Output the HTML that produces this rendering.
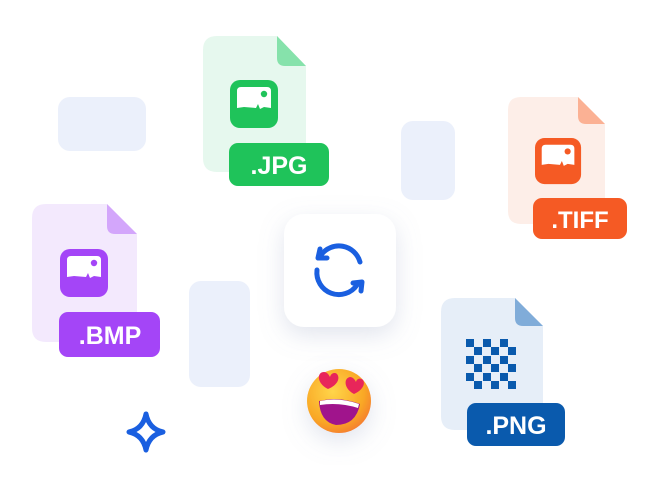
<!DOCTYPE html>
<html><head><meta charset="utf-8"><style>
html,body{margin:0;padding:0;background:#fff;width:671px;height:498px;overflow:hidden}
svg{display:block}
text{font-family:"Liberation Sans",sans-serif;font-weight:700;fill:#fff}
</style></head><body>
<svg width="671" height="498" viewBox="0 0 671 498" xmlns="http://www.w3.org/2000/svg">
<defs>
<filter id="sh" x="-50%" y="-50%" width="200%" height="200%"><feDropShadow dx="0" dy="8" stdDeviation="12" flood-color="#8a93b8" flood-opacity="0.25"/></filter>
<radialGradient id="em" cx="0.4" cy="0.35" r="0.7"><stop offset="0" stop-color="#ffd54a"/><stop offset="0.7" stop-color="#f9a825"/><stop offset="1" stop-color="#f57c30"/></radialGradient>
<g id="img"><rect x="0" y="0" width="48" height="48" rx="10"/><path d="M7 11Q7 7 11 7H37Q41 7 41 11V28L34 27L30 29L28 24L26 28L14 27L7 28Z" fill="#fff"/><circle cx="34" cy="14" r="3.2"/></g>
</defs>
<rect x="58" y="97" width="88" height="54" rx="12" fill="#ebf0fb"/>
<rect x="401" y="121" width="54" height="79" rx="12" fill="#ebf0fb"/>
<rect x="189" y="281" width="61" height="106" rx="12" fill="#ebf0fb"/>

<path d="M217 36H277L306 66V158Q306 172 292 172H217Q203 172 203 158V50Q203 36 217 36Z" fill="#e6f8ee"/>
<path d="M277 36L306 66H285Q277 66 277 58Z" fill="#86e2ab"/>
<use href="#img" x="230" y="80" fill="#1fc35a"/>
<rect x="229" y="143" width="100" height="43" rx="9" fill="#1fc35a"/>
<text x="279" y="174" font-size="25" text-anchor="middle">.JPG</text>

<path d="M521 97H578L605 124V211Q605 224 592 224H521Q508 224 508 211V110Q508 97 521 97Z" fill="#fdeee8"/>
<path d="M578 97L605 124H586Q578 124 578 116Z" fill="#fbb194"/>
<use href="#img" x="535" y="138" fill="#f55a24" transform="translate(535 138) scale(0.96) translate(-535 -138)"/>
<rect x="533" y="198" width="94" height="41" rx="9" fill="#f55a24"/>
<text x="580" y="228" font-size="24" text-anchor="middle">.TIFF</text>

<path d="M46 204H107L137 234V328Q137 342 123 342H46Q32 342 32 328V218Q32 204 46 204Z" fill="#f3e9fd"/>
<path d="M107 204L137 234H115Q107 234 107 226Z" fill="#d3a6fb"/>
<use href="#img" x="60" y="249" fill="#a445f7"/>
<rect x="59" y="312" width="101" height="45" rx="9" fill="#a445f7"/>
<text x="110" y="344" font-size="25" text-anchor="middle">.BMP</text>

<path d="M455 298H515L543 326V416Q543 430 529 430H455Q441 430 441 416V312Q441 298 455 298Z" fill="#e6eef8"/>
<path d="M515 298L543 326H523Q515 326 515 318Z" fill="#80acd9"/>
<g fill="#0a5aad">
<rect x="466" y="339" width="8" height="8"/><rect x="483" y="339" width="8" height="8"/><rect x="500" y="339" width="8" height="8"/>
<rect x="474" y="347" width="8" height="8"/><rect x="491" y="347" width="8" height="8"/><rect x="508" y="347" width="8" height="8"/>
<rect x="466" y="356" width="8" height="8"/><rect x="483" y="356" width="8" height="8"/><rect x="500" y="356" width="8" height="8"/>
<rect x="474" y="364" width="8" height="8"/><rect x="491" y="364" width="8" height="8"/><rect x="508" y="364" width="8" height="8"/>
<rect x="466" y="373" width="8" height="8"/><rect x="483" y="373" width="8" height="8"/><rect x="500" y="373" width="8" height="8"/>
<rect x="474" y="381" width="8" height="8"/><rect x="491" y="381" width="8" height="8"/><rect x="508" y="381" width="8" height="8"/>
</g>
<rect x="467" y="403" width="98" height="43" rx="9" fill="#0a5aad"/>
<text x="516" y="434" font-size="25" text-anchor="middle">.PNG</text>

<rect x="284" y="214" width="112" height="113" rx="20" fill="#fff" filter="url(#sh)"/>
<g fill="none" stroke="#1a5fe0" stroke-width="5" stroke-linecap="round" stroke-linejoin="round">
<path d="M360 262A22 22 0 0 0 321 255"/>
<path d="M318 258L320 249M318 258L327 258"/>
<path d="M317 270A22 22 0 0 0 357 285"/>
<path d="M362 282L361 291M362 282L353 283"/>
</g>

<circle cx="339" cy="401" r="32" fill="url(#em)" filter="url(#sh)"/>
<path d="M319 401Q339 396 360 404Q356 425 336 425Q320 422 319 401Z" fill="#a0148c"/>
<path d="M320 401Q339 397 359 404L358 408Q339 402 320 405Z" fill="#fff"/>
<path d="M328 389C316 383 317 372 324 372C327 372 329 375 330 377C331 373 335 372 337 374C341 379 336 386 328 389Z" fill="#e8265a"/>
<path d="M354 394C343 388 344 378 350 377C353 377 355 380 356 382C357 378 361 378 363 380C366 385 361 391 354 394Z" fill="#e8265a"/>

<path d="M146 414Q149 429 163 432Q149 435 146 450Q143 435 129 432Q143 429 146 414Z" fill="none" stroke="#1a5fe0" stroke-width="5" stroke-linejoin="round"/>
</svg>
</body></html>
